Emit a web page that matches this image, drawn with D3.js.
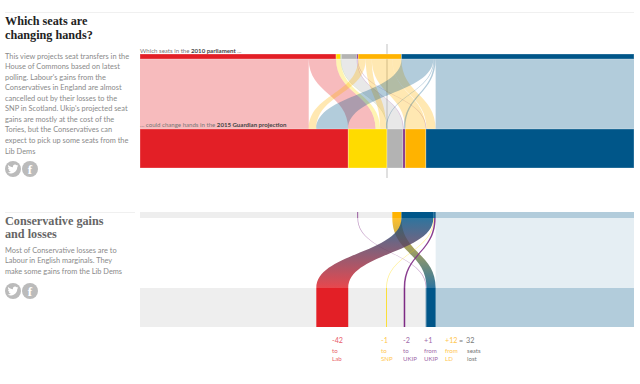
<!DOCTYPE html>
<html><head><meta charset="utf-8">
<script src="https://cdn.jsdelivr.net/npm/d3@7"></script>
<style>
html,body{margin:0;padding:0;background:#fff}
svg{display:block}
text{font-family:"Lato",sans-serif}
.head{font-family:"Liberation Serif",serif;font-weight:700;font-size:12.2px}
.copy{font-size:7.4px;fill:#8a8a8a}
</style></head><body>
<svg id="c" width="640" height="384"></svg>
<script>
const parties=["Lab","SNP","PC","Oth","UKIP","LD","Con"];
const partyColours=["#e31f26","#ffdb00","#7ca54d","#b3b3b3","#7d2a84","#ffb300","#005689"];
const flowFrom=["Lab","Lab","SNP","PC","Oth","UKIP","UKIP","LD","LD","LD","LD","Con","Con","Con","Con"];
const flowTo  =["Lab","SNP","SNP","Oth","Oth","UKIP","Con","Lab","SNP","LD","Con","Lab","SNP","UKIP","Con"];
const flowSeats=[222,36,6,1,20,1,1,10,8,27,12,42,1,2,261];
const title1=["Which seats are","changing hands?"];
const body1=["This view projects seat transfers in the","House of Commons based on latest","polling. Labour's gains from the","Conservatives in England are almost","cancelled out by their losses to the","SNP in Scotland. Ukip's projected seat","gains are mostly at the cost of the","Tories, but the Conservatives can","expect to pick up some seats from the","Lib Dems"];
const title2=["Conservative gains","and losses"];
const body2=["Most of Conservative losses are to","Labour in English marginals. They","make some gains from the Lib Dems"];
const changeNumbers=["-42","-1","-2","+1","+12"];
const changeWord=["to","to","to","from","from"];
const changeParty=["Lab","SNP","UKIP","UKIP","LD"];
const changeColours=["#e8606a","#ffc64d","#a06aa8","#a06aa8","#ffc64d"];
const changeX=[332,381,403,424,445];

const svg=d3.select("#c");
const x=d3.scaleLinear().domain([0,650]).range([140,634]);
const colour=d3.scaleOrdinal(parties,partyColours);

// stacked positions of every flow along the top and bottom rows
const flows=flowSeats.map((v,i)=>({i,from:flowFrom[i],to:flowTo[i],v}));
let t=0; flows.forEach(f=>{f.t0=t;t+=f.v;f.t1=t;});
let b=0;
d3.groupSort(flows,g=>parties.indexOf(g[0].to),f=>f.to).forEach(k=>{
  flows.filter(f=>f.to===k).forEach(f=>{f.b0=b;b+=f.v;f.b1=b;});
});
function ribbon(f,y0,y1){
  const m=(y0+y1)/2,p=d3.path();
  p.moveTo(x(f.t0),y0);
  p.bezierCurveTo(x(f.t0),m,x(f.b0),m,x(f.b0),y1);
  p.lineTo(x(f.b1),y1);
  p.bezierCurveTo(x(f.b1),m,x(f.t1),m,x(f.t1),y0);
  p.closePath();
  return p.toString();
}

// ---- left column
const hair=[12,212];
svg.selectAll("line.hair").data(hair).join("line").attr("x1",5).attr("y1",d=>d+.5).attr("y2",d=>d+.5)
  .attr("x2",(d,i)=>i?135:634).attr("stroke","#f0f0f0");
function lines(arr,cls,y0,dy,fill){
  svg.append("g").selectAll("text").data(arr).join("text").attr("class",cls).attr("x",5)
    .attr("y",(d,i)=>y0+i*dy).attr("fill",fill||null).text(d=>d);
}
lines(title1,"head",25,13.6,"#222");
lines(body1,"copy",58.6,10.55);
lines(title2,"head",225,13.2,"#666");
lines(body2,"copy",252.6,10.55);
const bird="M23.953 4.57a10 10 0 01-2.825.775 4.958 4.958 0 002.163-2.723c-.951.555-2.005.959-3.127 1.184a4.92 4.92 0 00-8.384 4.482C7.69 8.095 4.067 6.13 1.64 3.162a4.822 4.822 0 00-.666 2.475c0 1.71.87 3.213 2.188 4.096a4.904 4.904 0 01-2.228-.616v.06a4.923 4.923 0 003.946 4.827 4.996 4.996 0 01-2.212.085 4.936 4.936 0 004.604 3.417 9.867 9.867 0 01-6.102 2.105c-.39 0-.779-.023-1.17-.067a13.995 13.995 0 007.557 2.209c9.053 0 13.998-7.496 13.998-13.985 0-.21 0-.42-.015-.63A9.935 9.935 0 0024 4.59z";
[169,291].forEach(cy=>{
  svg.append("circle").attr("cx",13).attr("cy",cy).attr("r",8).attr("fill","#bbb");
  svg.append("circle").attr("cx",30).attr("cy",cy).attr("r",8).attr("fill","#bbb");
  svg.append("path").attr("d",bird).attr("fill","#fff").attr("transform",`translate(7.6,${cy-5.4}) scale(.45)`);
  svg.append("text").attr("x",30).attr("y",cy+4.6).attr("text-anchor","middle").attr("fill","#fff")
    .style("font-family","'Liberation Serif',serif").style("font-weight",700).style("font-size","13px").text("f");
});

// ---- chart 1
const Y={top:54,top2:59,bot:129,bot2:168};
svg.append("line").attr("x1",387).attr("x2",387).attr("y1",44).attr("y2",178).attr("stroke","#ccc").attr("stroke-width",1.2);
const g1=svg.append("g");
g1.selectAll("path").data(flows).join("path")
  .attr("d",f=>ribbon(f,Y.top2,Y.bot)).attr("fill",f=>colour(f.from)).attr("fill-opacity",.3);
const topTotals=d3.rollups(flows,v=>[d3.min(v,f=>f.t0),d3.max(v,f=>f.t1)],f=>f.from);
const botTotals=d3.rollups(flows,v=>[d3.min(v,f=>f.b0),d3.max(v,f=>f.b1)],f=>f.to);
g1.selectAll("rect.tb").data(topTotals).join("rect").attr("class","tb")
  .attr("x",d=>x(d[1][0])).attr("width",d=>x(d[1][1])-x(d[1][0])).attr("y",Y.top).attr("height",Y.top2-Y.top)
  .attr("fill",d=>colour(d[0])).attr("stroke","#fff").attr("stroke-opacity",.35).attr("stroke-width",.8);
g1.selectAll("rect.bb").data(botTotals).join("rect").attr("class","bb")
  .attr("x",d=>x(d[1][0])).attr("width",d=>x(d[1][1])-x(d[1][0])).attr("y",Y.bot).attr("height",Y.bot2-Y.bot)
  .attr("fill",d=>colour(d[0])).attr("stroke","#fff").attr("stroke-opacity",.35).attr("stroke-width",.8);

function note(y,x0,parts){
  const tx=svg.append("text").attr("x",x0).attr("y",y).style("font-size","6.1px");
  parts.forEach((p,i)=>tx.append("tspan").attr("fill",i%2?"#444":"#777").style("font-weight",i%2?700:400).text(p));
}
note(52.5,140,["Which seats in the ","2010 parliament"," ..."]);
note(127,140,["... could change hands in the ","2015 Guardian projection"]);

// ---- chart 2
const Z={top:212,top2:218,bot:288,bot2:327};
const con=flows.filter(f=>(f.from==="Con"||f.to==="Con"));
const stay=con.find(f=>f.from==="Con"&&f.to==="Con");
const moved=con.filter(f=>f!==stay);
const defs=svg.append("defs");
moved.forEach(f=>{
  const gr=defs.append("linearGradient").attr("id","g"+f.i).attr("x1",0).attr("x2",0).attr("y1",0).attr("y2",1);
  gr.append("stop").attr("offset","0%").attr("stop-color",colour(f.from));
  gr.append("stop").attr("offset","100%").attr("stop-color",colour(f.to));
});
const g2=svg.append("g");
g2.append("rect").attr("x",x(0)).attr("width",x(stay.t0)-x(0)).attr("y",Z.top).attr("height",Z.top2-Z.top).attr("fill","#eee");
g2.append("rect").attr("x",x(0)).attr("width",x(stay.b0)-x(0)).attr("y",Z.bot).attr("height",Z.bot2-Z.bot).attr("fill","#eee");
g2.append("rect").attr("x",x(stay.t0)).attr("width",x(stay.t1)-x(stay.t0)).attr("y",Z.top).attr("height",Z.top2-Z.top).attr("fill",colour("Con")).attr("fill-opacity",.3);
g2.append("rect").attr("x",x(stay.t0)).attr("width",x(stay.t1)-x(stay.t0)).attr("y",Z.top2).attr("height",Z.bot-Z.top2).attr("fill",colour("Con")).attr("fill-opacity",.1);
g2.append("rect").attr("x",x(stay.t0)).attr("width",x(stay.t1)-x(stay.t0)).attr("y",Z.bot).attr("height",Z.bot2-Z.bot).attr("fill",colour("Con")).attr("fill-opacity",.3);
g2.selectAll("path").data(moved).join("path")
  .attr("d",f=>ribbon(f,Z.top2,Z.bot))
  .attr("fill",f=>f.v>5?`url(#g${f.i})`:colour(f.to==="Con"?f.from:f.to))
  .attr("fill-opacity",f=>f.v>5?.82:(f.to==="SNP"?.45:(f.to==="UKIP"?.9:.45)));
g2.selectAll("rect.tb").data(moved).join("rect").attr("class","tb")
  .attr("x",f=>x(f.t0)).attr("width",f=>x(f.t1)-x(f.t0)).attr("y",Z.top).attr("height",Z.top2-Z.top).attr("fill",f=>colour(f.from));
g2.selectAll("rect.bb").data(moved).join("rect").attr("class","bb")
  .attr("x",f=>x(f.b0)).attr("width",f=>x(f.b1)-x(f.b0)).attr("y",Z.bot).attr("height",Z.bot2-Z.bot).attr("fill",f=>colour(f.to));

// ---- change labels
const lab=svg.append("g").style("font-size","7.2px");
function twoLine(g,xp,a,c){
  g.append("text").attr("x",xp).attr("y",353.4).style("font-size","6.1px").text(a);
  g.append("text").attr("x",xp).attr("y",361).style("font-size","6.1px").text(c);
}
changeNumbers.forEach((n,i)=>{
  const gg=lab.append("g").attr("fill",changeColours[i]);
  gg.append("text").attr("x",changeX[i]).attr("y",342.5).text(n);
  twoLine(gg,changeX[i],changeWord[i],changeParty[i]);
});
const sum=lab.append("g").attr("fill","#777");
sum.append("text").attr("x",459).attr("y",343).text("=");
sum.append("text").attr("x",466).attr("y",342.5).text("32");
twoLine(sum,467,"seats","lost");
</script>
</body></html>
